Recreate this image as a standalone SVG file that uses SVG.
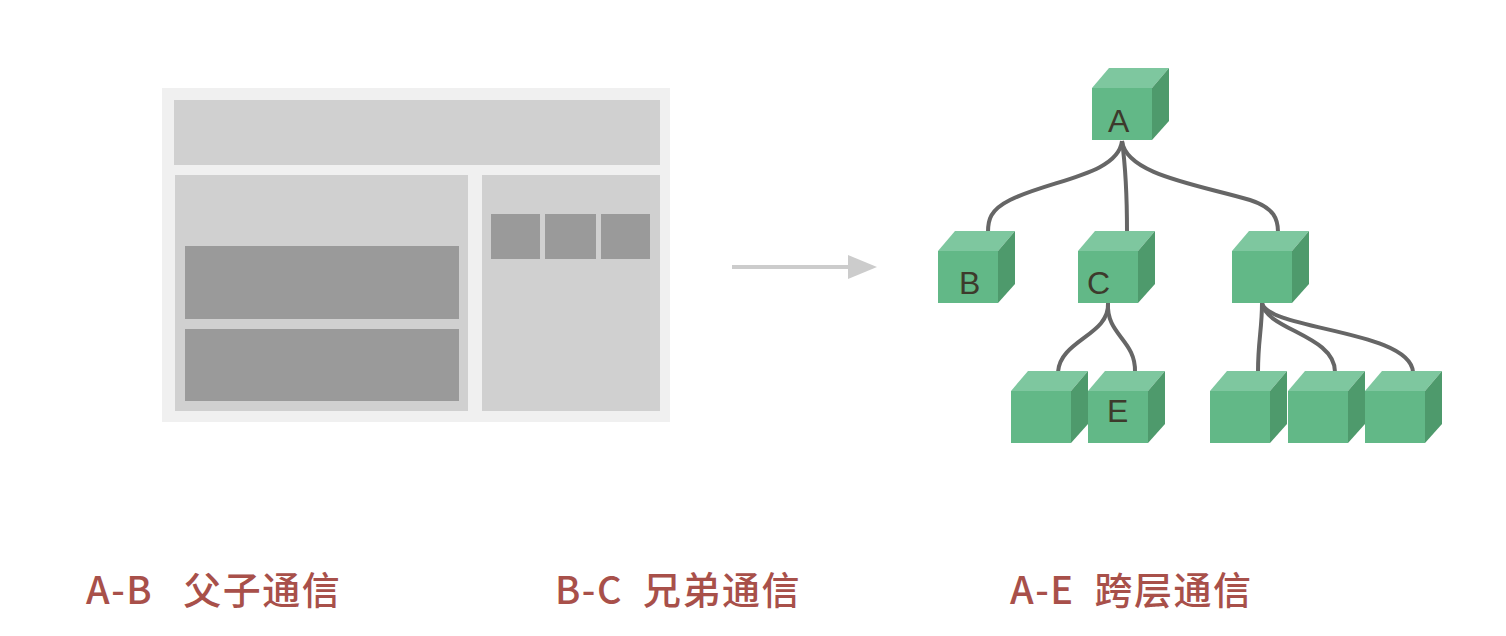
<svg xmlns="http://www.w3.org/2000/svg" width="1506" height="636" viewBox="0 0 1506 636">
<style>
.f{fill:#62b887}.t{fill:#7ec79f}.s{fill:#4e9a6c}
.lbl{font-family:"Liberation Sans","Noto Sans CJK SC",sans-serif;font-size:32px;fill:#3d3a2c}
.cap{font-family:"Noto Sans CJK SC",sans-serif;font-size:38px;font-weight:500;fill:#a8504a;white-space:pre;letter-spacing:1.5px}
.c{fill:none;stroke:#666;stroke-width:4}
</style>
<defs>
<g id="cube">
<polygon class="t" points="0,20 17,0 77,0 60,20"/>
<polygon class="s" points="60,20 77,0 77,53 60,72"/>
<rect class="f" x="0" y="20" width="60" height="52"/>
</g>
</defs>
<rect width="1506" height="636" fill="#fff"/>
<g id="page">
<rect x="162" y="88" width="508" height="334" fill="#f0f0f0"/>
<rect x="174" y="100" width="486" height="65" fill="#d0d0d0"/>
<rect x="175" y="175" width="293" height="236" fill="#d0d0d0"/>
<rect x="185" y="246" width="274" height="73" fill="#9a9a9a"/>
<rect x="185" y="329" width="274" height="72" fill="#9a9a9a"/>
<rect x="482" y="175" width="178" height="236" fill="#d0d0d0"/>
<rect x="491" y="214" width="49" height="45" fill="#9a9a9a"/>
<rect x="545" y="214" width="51" height="45" fill="#9a9a9a"/>
<rect x="601" y="214" width="49" height="45" fill="#9a9a9a"/>
</g>
<g id="arrow">
<line x1="732" y1="267" x2="852" y2="267" stroke="#cccccc" stroke-width="4"/>
<polygon points="877,267 848,255 848,279" fill="#cccccc"/>
</g>
<g id="connectors">
<path class="c" d="M1122,141 C1118,175 1050,180 1010,200 C990,210 988,220 988,232"/>
<path class="c" d="M1122,141 C1126,170 1127,200 1127,232"/>
<path class="c" d="M1122,141 C1126,175 1200,185 1250,200 C1275,208 1278,220 1278,232"/>
<path class="c" d="M1108,303 C1110,335 1060,340 1058,372"/>
<path class="c" d="M1108,303 C1106,335 1136,340 1135,372"/>
<path class="c" d="M1262,303 C1262,330 1258,340 1258,372"/>
<path class="c" d="M1262,303 C1266,330 1335,335 1335,372"/>
<path class="c" d="M1262,303 C1268,330 1410,330 1413,372"/>
</g>
<g id="nodeA"><use href="#cube" x="1092" y="68"/><text class="lbl" x="1108" y="132">A</text></g>
<g id="nodeB"><use href="#cube" x="938" y="231"/><text class="lbl" x="959" y="294">B</text></g>
<g id="nodeC"><use href="#cube" x="1078" y="231"/><text class="lbl" x="1087" y="294">C</text></g>
<g id="nodeD"><use href="#cube" x="1232" y="231"/></g>
<g id="nodeF"><use href="#cube" x="1011" y="371"/></g>
<g id="nodeE"><use href="#cube" x="1088" y="371"/><text class="lbl" x="1107" y="422">E</text></g>
<g id="nodeG"><use href="#cube" x="1210" y="371"/></g>
<g id="nodeH"><use href="#cube" x="1288" y="371"/></g>
<g id="nodeI"><use href="#cube" x="1365" y="371"/></g>
<g id="captions">
<text class="cap" x="86" y="604">A-B   父子通信</text>
<text class="cap" x="555" y="604">B-C  兄弟通信</text>
<text class="cap" x="1010" y="604">A-E  跨层通信</text>
</g>
</svg>
